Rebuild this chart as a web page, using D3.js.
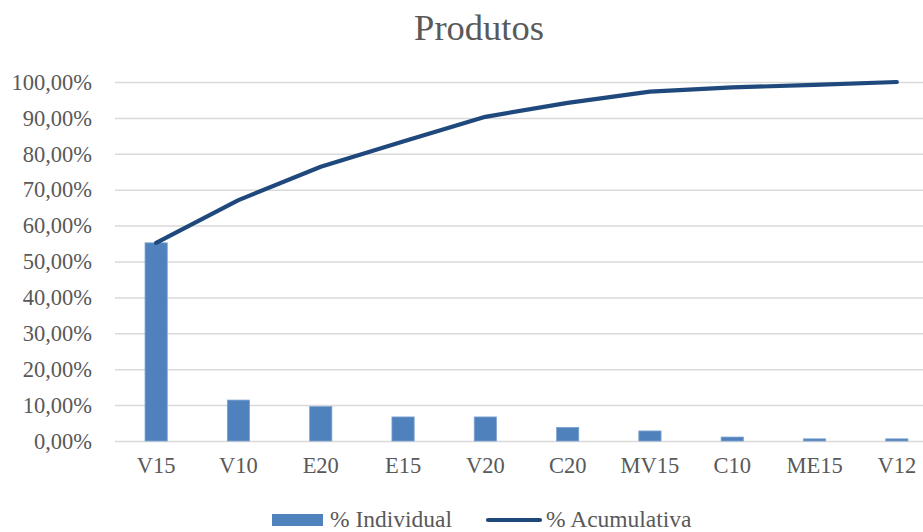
<!DOCTYPE html>
<html>
<head>
<meta charset="utf-8">
<script src="https://cdn.jsdelivr.net/npm/d3@7"></script>
<style>
  html, body { margin: 0; padding: 0; background: #fff; }
  svg { display: block; font-family: "Liberation Serif", "Times New Roman", serif; }
</style>
</head>
<body>
<svg id="chart" width="923" height="532"></svg>
<script>
// Product shares (Pareto)
const categories = ["V15", "V10", "E20", "E15", "V20", "C20", "MV15", "C10", "ME15", "V12"];
const individual = [0.552, 0.114, 0.096, 0.067, 0.067, 0.038, 0.028, 0.011, 0.006, 0.006];
const cumulative = [0.552, 0.671, 0.764, 0.834, 0.903, 0.942, 0.973, 0.985, 0.992, 1.000];
const yTicks = [0, 0.1, 0.2, 0.3, 0.4, 0.5, 0.6, 0.7, 0.8, 0.9, 1.0];
const seriesNames = ["% Individual", "% Acumulativa"];

const svg = d3.select("#chart");
const textColor = "#595959";
const barColor = "#4F81BD";
const lineColor = "#1F497D";
const gridColor = "#D9D9D9";
const serif = "Liberation Serif, Times New Roman, serif";

const plot = { left: 115, right: 938, top: 82, bottom: 441 };

const x = d3.scaleBand()
  .domain(categories)
  .range([plot.left, plot.right])
  .paddingInner(0.73)
  .paddingOuter(0.365);

const y = d3.scaleLinear().domain([0, 1]).range([plot.bottom, plot.top]);

const fmt = v => d3.format(".2f")(v * 100).replace(".", ",") + "%";

// Title
svg.append("text")
  .attr("x", 479).attr("y", 40)
  .attr("text-anchor", "middle")
  .attr("font-size", 36.5)
  .attr("fill", textColor)
  .text("Produtos");

// Y axis with gridlines
const yAxis = svg.append("g")
  .attr("transform", `translate(${plot.left},0)`)
  .call(d3.axisLeft(y).tickValues(yTicks).tickFormat(fmt)
    .tickSize(-(plot.right - plot.left)).tickPadding(23));
yAxis.select(".domain").remove();
yAxis.selectAll(".tick line").attr("stroke", gridColor).attr("stroke-width", 1.5);
yAxis.selectAll(".tick text")
  .attr("font-size", 22.5).attr("fill", textColor)
  .attr("font-family", serif);

// X axis labels
const xAxis = svg.append("g")
  .attr("transform", `translate(0,${plot.bottom})`)
  .call(d3.axisBottom(x).tickSize(0).tickPadding(16));
xAxis.select(".domain").remove();
xAxis.selectAll(".tick text")
  .attr("font-size", 22.5).attr("fill", textColor)
  .attr("font-family", serif);

// Bars
svg.append("g").selectAll("rect")
  .data(categories)
  .join("rect")
  .attr("x", d => x(d))
  .attr("y", (d, i) => y(individual[i]))
  .attr("width", x.bandwidth())
  .attr("height", (d, i) => y(0) - y(individual[i]))
  .attr("fill", barColor)
  .attr("stroke", "#7FA3D1")
  .attr("stroke-width", 0.8);

// Cumulative line
const line = d3.line()
  .x((d, i) => x(categories[i]) + x.bandwidth() / 2)
  .y(d => y(d));
svg.append("path")
  .datum(cumulative)
  .attr("d", line)
  .attr("fill", "none")
  .attr("stroke", lineColor)
  .attr("stroke-width", 4.2)
  .attr("stroke-linecap", "round")
  .attr("stroke-linejoin", "round");

// Legend
const legend = svg.append("g");
legend.append("rect")
  .attr("x", 272).attr("y", 514).attr("width", 51).attr("height", 12)
  .attr("fill", barColor);
legend.append("text")
  .attr("x", 330).attr("y", 526.5)
  .attr("font-size", 23.5).attr("fill", textColor)
  .text(seriesNames[0]);
legend.append("line")
  .attr("x1", 488).attr("x2", 540).attr("y1", 520).attr("y2", 520)
  .attr("stroke", lineColor).attr("stroke-width", 4.2)
  .attr("stroke-linecap", "round");
legend.append("text")
  .attr("x", 546).attr("y", 526.5)
  .attr("font-size", 23.5).attr("fill", textColor)
  .text(seriesNames[1]);
</script>
</body>
</html>
